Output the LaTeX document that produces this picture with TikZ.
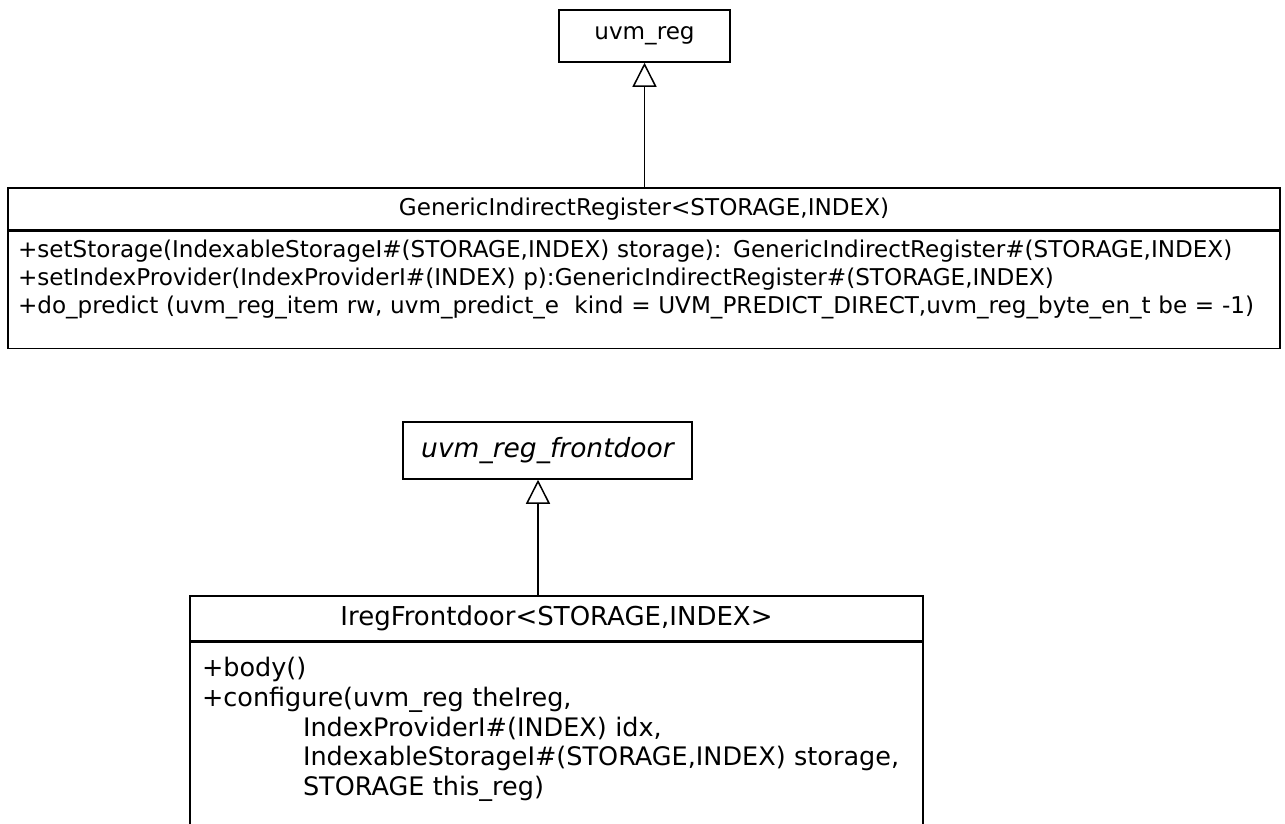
\documentclass[tikz,border=0pt]{standalone}
\usepackage{fontspec}
\setmainfont{DejaVu Sans}
\usetikzlibrary{positioning,arrows.meta}

\begin{document}
\begin{tikzpicture}[x=1pt,y=-1pt,line width=1.5pt,
		toptext/.style={font=\fontsize{23.1}{27.7}\selectfont},
		lowtext/.style={font=\fontsize{25.5}{29.7}\selectfont},
		classname/.style={draw,inner sep=0pt},
		classbody/.style={draw,align=left,inner ysep=0pt},
		inherit/.style={-{Triangle[open,length=24pt,width=24pt]}}]
		\useasboundingbox (0,0) rectangle (1285,823);
		\clip (0,0) rectangle (1285,823);
		\node[classname,toptext,minimum width=171pt,minimum height=52pt] (uvmreg) at (644.5,36) {uvm\_reg};
		\node[classname,toptext,minimum width=1272pt,minimum height=42pt] (gir) at (644,209) {GenericIndirectRegister<STORAGE,INDEX)};
		\node[classbody,toptext,below=0pt of gir,inner xsep=10pt,text width=1252pt,text height=26.4pt,text depth=90.6pt] (girbody) {+setStorage(IndexableStorageI\#(STORAGE,INDEX) storage): GenericIndirectRegister\#(STORAGE,INDEX)\\
			+setIndexProvider(IndexProviderI\#(INDEX) p):GenericIndirectRegister\#(STORAGE,INDEX)\\
			+do\_predict (uvm\_reg\_item rw, uvm\_predict\_e\ \ kind = UVM\_PREDICT\_DIRECT,uvm\_reg\_byte\_en\_t be = -1)};
		\node[classname,font=\fontsize{26.5}{30}\selectfont\itshape,minimum width=289pt,minimum height=57pt] (frontdoor) at (547.5,450.5) {uvm\_reg\_frontdoor};
		\node[classname,font=\fontsize{26}{30}\selectfont,minimum width=733pt,minimum height=45pt] (ireg) at (556.5,618.5) {IregFrontdoor<STORAGE,INDEX>};
		\node[classbody,lowtext,below=0pt of ireg,inner xsep=12pt,text width=709pt,text height=34.3pt,text depth=200pt] (iregbody) {+body()\\
			+configure(uvm\_reg theIreg,\\
			\hspace*{101pt}IndexProviderI\#(INDEX) idx,\\
			\hspace*{101pt}IndexableStorageI\#(STORAGE,INDEX) storage,\\
			\hspace*{101pt}STORAGE this\_reg)};
		\draw[inherit] (uvmreg.south |- gir.north) -- (uvmreg.south);
		\draw[inherit] ([xshift=-9.5pt]frontdoor.south |- ireg.north) -- ([xshift=-9.5pt]frontdoor.south);
	\end{tikzpicture}
\end{document}
